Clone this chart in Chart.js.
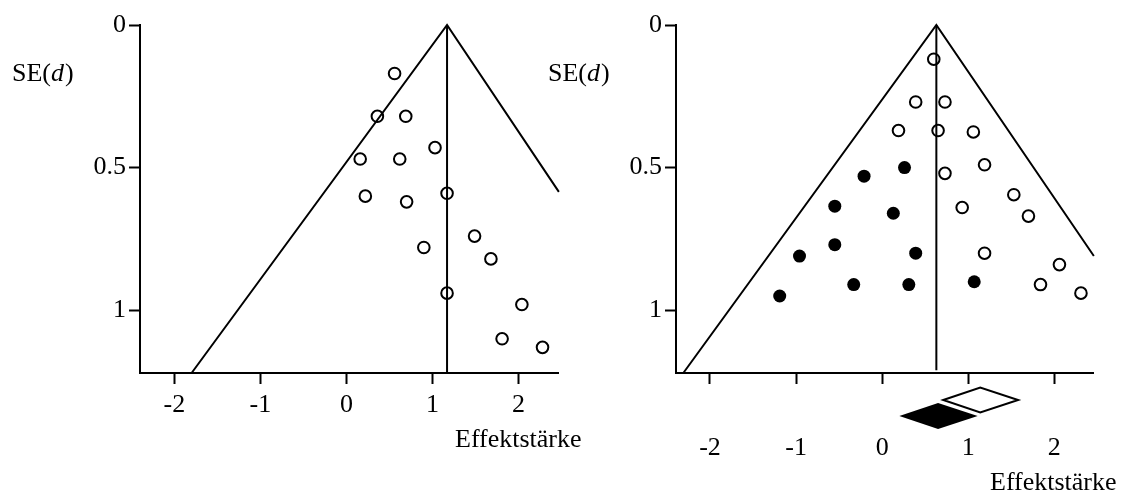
<!DOCTYPE html>
<html>
<head>
<meta charset="utf-8">
<title>Funnel plots</title>
<script src="https://cdn.jsdelivr.net/npm/chart.js@4.4.1/dist/chart.umd.min.js"></script>
<style>
  html, body { margin: 0; padding: 0; background: #fff; }
  #wrap { position: relative; width: 1123px; height: 490px; overflow: hidden; }
  canvas { position: absolute; top: 0; }
  #left { left: 0; }
  #right { left: 540px; }
</style>
</head>
<body>
<div id="wrap">
  <canvas id="left" width="600" height="490"></canvas>
  <canvas id="right" width="583" height="490"></canvas>
</div>
<script>
// tick labels
const xTicks = [-2, -1, 0, 1, 2];
const yTicks = [0, 0.5, 1];

// left panel: studies (effect size d, standard error)
const leftEffect = [0.56, 0.36, 0.69, 1.03, 0.16, 0.62, 1.17, 0.22, 0.70, 1.49, 0.90, 1.68, 1.17, 2.04, 1.81, 2.28];
const leftSE     = [0.17, 0.32, 0.32, 0.43, 0.47, 0.47, 0.59, 0.60, 0.62, 0.74, 0.78, 0.82, 0.94, 0.98, 1.10, 1.13];
const leftMean = 1.17;
const leftFunnelX = [-1.80, 1.17, 2.47];
const leftFunnelY = [1.22, 0, 0.585];

// right panel: observed studies (open) and filled-in studies (filled)
const openEffect = [0.60, 0.39, 0.73, 0.19, 0.65, 1.06, 1.19, 0.73, 1.53, 0.93, 1.70, 1.19, 2.06, 1.84, 2.31];
const openSE     = [0.12, 0.27, 0.27, 0.37, 0.37, 0.375, 0.49, 0.52, 0.595, 0.64, 0.67, 0.80, 0.84, 0.91, 0.94];
const filledEffect = [0.26, -0.21, -0.55, 0.13, -0.55, -0.96, 0.39, -0.33, 0.31, 1.07, -1.19];
const filledSE     = [0.50, 0.53, 0.635, 0.66, 0.77, 0.81, 0.80, 0.91, 0.91, 0.90, 0.95];
const rightMean = 0.63;
const rightFunnelX = [-2.31, 0.63, 2.46];
const rightFunnelY = [1.22, 0, 0.81];

// pooled estimates (diamonds under the right axis): observed, then filled-in
const pooledMid  = [1.14, 0.65];
const pooledLow  = [0.71, 0.20];
const pooledHigh = [1.58, 1.11];

const FONT = '"Liberation Serif", "Times New Roman", serif';
const SIZE = 26;

function toPoints(xs, ys) {
    return xs.map((x, i) => ({x: x, y: ys[i]}));
}

function lineSet(points) {
    return {
        data: points, showLine: true, pointRadius: 0, borderColor: '#000',
        borderWidth: 2, fill: false, clip: false, tension: 0
    };
}

function dotSet(points, filled) {
    return {
        data: points, showLine: false, pointStyle: 'circle',
        pointRadius: filled ? 6.5 : 5.8,
        pointBorderWidth: filled ? 0 : 2,
        pointBackgroundColor: filled ? '#000' : 'rgba(0,0,0,0)',
        pointBorderColor: '#000', clip: false
    };
}

const textPlugin = {
    id: 'axisText',
    afterDraw(chart) {
        const {ctx, chartArea, scales} = chart;
        ctx.save();
        ctx.fillStyle = '#000';
        ctx.textBaseline = 'alphabetic';
        ctx.textAlign = 'left';
        let x = chartArea.left - 128;
        const y = chartArea.top + 56;
        ctx.font = SIZE + 'px ' + FONT;
        ctx.fillText('SE(', x, y);
        x += ctx.measureText('SE(').width;
        ctx.font = 'italic ' + SIZE + 'px ' + FONT;
        ctx.fillText('d', x, y);
        x += ctx.measureText('d').width + 1;
        ctx.font = SIZE + 'px ' + FONT;
        ctx.fillText(')', x, y);

        const xs = scales.x;
        const base = xs.top + xs.options.grid.tickLength + xs.options.ticks.padding + SIZE * 1.2 + 26;
        ctx.fillText('Effektstärke', chartArea.right - 103, base);
        ctx.restore();
    }
};

const diamondPlugin = {
    id: 'diamonds',
    afterDatasetsDraw(chart) {
        const {ctx, chartArea, scales} = chart;
        const styles = [
            {offset: 27, half: 12.5, filled: false},
            {offset: 43, half: 13, filled: true}
        ];
        ctx.save();
        ctx.lineWidth = 2;
        ctx.strokeStyle = '#000';
        ctx.fillStyle = '#000';
        for (let i = 0; i < pooledMid.length; i++) {
            const l = scales.x.getPixelForValue(pooledLow[i]);
            const c = scales.x.getPixelForValue(pooledMid[i]);
            const r = scales.x.getPixelForValue(pooledHigh[i]);
            const cy = chartArea.bottom + styles[i].offset;
            const h = styles[i].half;
            ctx.beginPath();
            ctx.moveTo(l, cy);
            ctx.lineTo(c, cy - h);
            ctx.lineTo(r, cy);
            ctx.lineTo(c, cy + h);
            ctx.closePath();
            if (styles[i].filled) {
                ctx.fill();
            } else {
                ctx.stroke();
            }
        }
        ctx.restore();
    }
};

function makeChart(id, opt) {
    return new Chart(document.getElementById(id), {
        type: 'scatter',
        data: {datasets: opt.datasets},
        options: {
            responsive: false,
            animation: false,
            layout: {padding: opt.padding},
            plugins: {legend: {display: false}, tooltip: {enabled: false}},
            scales: {
                x: {
                    type: 'linear', min: opt.xMin, max: opt.xMax,
                    afterBuildTicks: s => { s.ticks = xTicks.map(v => ({value: v})); },
                    afterFit: s => { s.height = opt.xHeight; },
                    grid: {drawOnChartArea: false, drawTicks: true, tickLength: 11, tickColor: '#000', tickWidth: 2},
                    border: {display: true, color: '#000', width: 2},
                    ticks: {padding: opt.xPad, color: '#000', font: {family: FONT, size: SIZE}, callback: v => String(v)}
                },
                y: {
                    type: 'linear', reverse: true, min: 0, max: 1.22,
                    afterBuildTicks: s => { s.ticks = yTicks.map(v => ({value: v})); },
                    afterFit: s => { s.width = 60; },
                    grid: {drawOnChartArea: false, drawTicks: true, tickLength: 11, tickColor: '#000', tickWidth: 2},
                    border: {display: true, color: '#000', width: 2},
                    ticks: {padding: 3, color: '#000', font: {family: FONT, size: SIZE}, callback: v => String(v)}
                }
            }
        },
        plugins: opt.plugins
    });
}

makeChart('left', {
    xMin: -2.40, xMax: 2.46, xHeight: 60, xPad: 6,
    padding: {left: 80, top: 25, right: 42, bottom: 57},
    datasets: [
        lineSet(toPoints(leftFunnelX, leftFunnelY)),
        lineSet(toPoints([leftMean, leftMean], [0, 1.22])),
        dotSet(toPoints(leftEffect, leftSE), false)
    ],
    plugins: [textPlugin]
});

makeChart('right', {
    xMin: -2.395, xMax: 2.45, xHeight: 100, xPad: 49,
    padding: {left: 76, top: 25, right: 30, bottom: 17},
    datasets: [
        lineSet(toPoints(rightFunnelX, rightFunnelY)),
        lineSet(toPoints([rightMean, rightMean], [0, 1.21])),
        dotSet(toPoints(openEffect, openSE), false),
        dotSet(toPoints(filledEffect, filledSE), true)
    ],
    plugins: [textPlugin, diamondPlugin]
});
</script>
</body>
</html>
